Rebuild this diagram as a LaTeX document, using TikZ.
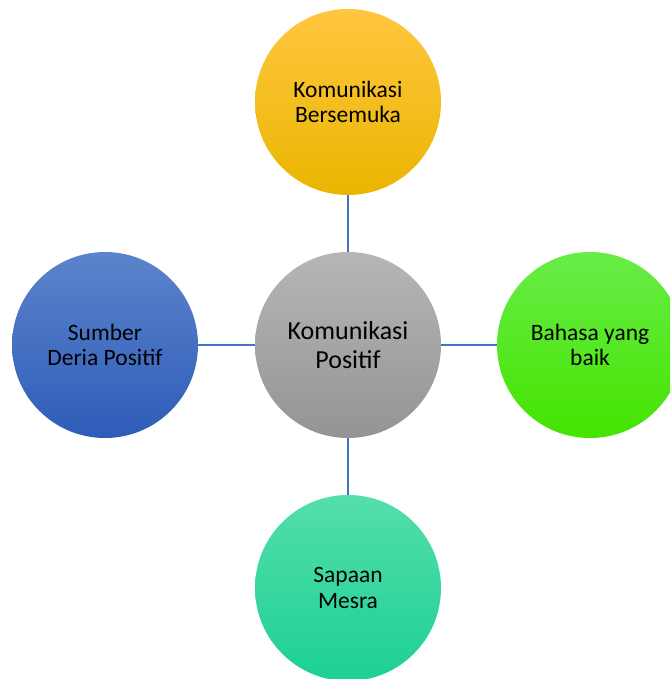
\documentclass[tikz,border=0pt]{standalone}
\usepackage{fontspec}
\setmainfont{Carlito}
\definecolor{lineblue}{RGB}{68,114,196}
\tikzset{
  bub/.style={circle, minimum size=186pt, inner sep=0pt, align=center, font=\fontsize{23.5}{25.5}\selectfont, text=black},
  hub/.style={bub, font=\fontsize{26}{28.5}\selectfont},
  link/.style={draw=lineblue, line width=1.6pt}
}
\begin{document}
\begin{tikzpicture}[x=1pt,y=-1pt]
\useasboundingbox (0,0) rectangle (670,679);
\begin{scope}
\clip (0,0) rectangle (670,679);
\node[hub, top color={rgb,255:red,182;green,182;blue,182}, bottom color={rgb,255:red,148;green,148;blue,148}] (c) at (348,345) {Komunikasi\\Positif};
\node[bub, top color={rgb,255:red,255;green,198;blue,64}, middle color={rgb,255:red,255;green,192;blue,0}, bottom color={rgb,255:red,234;green,182;blue,0}] (t) at (348,102) {Komunikasi\\Bersemuka};
\node[bub, top color={rgb,255:red,104;green,236;blue,72}, middle color={rgb,255:red,78;green,240;blue,20}, bottom color={rgb,255:red,68;green,228;blue,0}] (r) at (590,345) {Bahasa yang\\baik};
\node[bub, top color={rgb,255:red,84;green,222;blue,170}, middle color={rgb,255:red,40;green,222;blue,160}, bottom color={rgb,255:red,28;green,208;blue,148}] (b) at (348,588) {Sapaan\\Mesra};
\node[bub, top color={rgb,255:red,92;green,132;blue,204}, middle color={rgb,255:red,64;green,112;blue,196}, bottom color={rgb,255:red,46;green,92;blue,184}] (l) at (105,345) {Sumber\\Deria Positif};
\draw[link] (c) -- (t);
\draw[link] (c) -- (r);
\draw[link] (c) -- (b);
\draw[link] (c) -- (l);
\end{scope}
\end{tikzpicture}
\end{document}
